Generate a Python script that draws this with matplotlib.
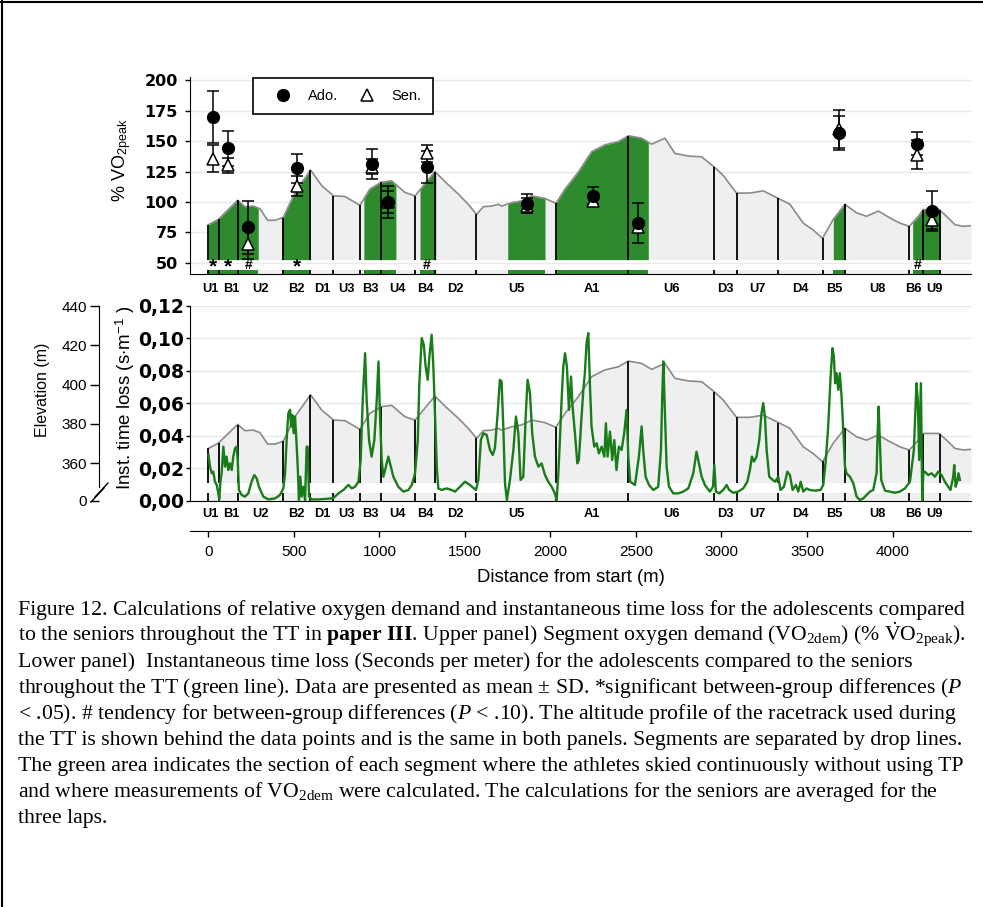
import numpy as np
import matplotlib
matplotlib.use("Agg")
import matplotlib.pyplot as plt
import matplotlib.transforms as mtransforms
from matplotlib import font_manager
from matplotlib.lines import Line2D

# Fonts
installed = {f.name for f in font_manager.fontManager.ttflist}
seg_font = "Liberation Sans Narrow" if "Liberation Sans Narrow" in installed else "Liberation Sans"
plt.rcParams["font.family"] = ["Liberation Sans", "DejaVu Sans"]
plt.rcParams["mathtext.fontset"] = "custom"
plt.rcParams["mathtext.rm"] = "Liberation Serif"
plt.rcParams["mathtext.it"] = "Liberation Serif:italic"
plt.rcParams["mathtext.bf"] = "Liberation Serif:bold"

# Segments of the racetrack, boundaries in m from start
segments = ["U1", "B1", "U2", "B2", "D1", "U3", "B3", "U4", "B4", "D2",
            "U5", "A1", "U6", "D3", "U7", "D4", "B5", "U8", "B6", "U9"]
boundaries = [0, 61, 170, 433, 596, 731, 886, 1007, 1208, 1327, 1566,
              2032, 2455, 2958, 3091, 3333, 3592, 3722, 4098, 4177, 4278]

# Sections skied continuously (green area)
green_start = [0, 432, 909, 1237, 1750, 2032, 3654, 4118]
green_end = [291, 594, 1096, 1329, 1968, 2572, 3722, 4278]

# Altitude profile (m)
profile_dist = [0, 57, 96, 171, 213, 262, 301, 346, 389, 438, 506, 597, 662, 732,
                798, 886, 944, 1009, 1071, 1149, 1208, 1324, 1383, 1461, 1519, 1568,
                1607, 1656, 1695, 1714, 1773, 1831, 1890, 1968, 2032, 2085, 2163, 2241,
                2319, 2397, 2455, 2533, 2591, 2669, 2728, 2806, 2884, 2958, 3010, 3088,
                3166, 3244, 3322, 3400, 3478, 3536, 3591, 3653, 3722, 3790, 3848, 3917,
                3985, 4043, 4098, 4151, 4180, 4272, 4316, 4365, 4414, 4459]
profile_elev = [367.6, 370.2, 373.5, 379.8, 376.6, 376.9, 375.6, 369.8, 369.8, 371.3,
                383.7, 394.9, 387.1, 382.0, 381.7, 377.3, 385.4, 388.8, 389.5, 383.7,
                382.0, 394.2, 389.1, 382.9, 377.8, 372.7, 376.6, 376.9, 377.8, 376.9,
                378.6, 379.5, 382.0, 380.7, 378.3, 385.4, 393.9, 404.1, 407.5, 409.1,
                412.0, 410.8, 407.8, 410.8, 403.2, 401.9, 401.5, 396.4, 392.2, 383.4,
                383.4, 384.5, 381.2, 377.8, 368.4, 365.0, 360.8, 370.2, 377.8, 373.5,
                371.8, 374.4, 371.0, 368.4, 366.8, 371.8, 375.2, 375.2, 371.8, 367.6,
                366.8, 367.1]

# Segment oxygen demand (% VO2peak), mean and SD
point_dist = [28, 116, 233, 516, 954, 1051, 1276, 1861, 2247, 2510, 3689, 4145, 4229]
ado_mean = [170, 144, 79, 127.5, 131, 100, 128.5, 98.5, 105, 83, 157, 148, 92.5]
ado_sd = [21.5, 14.5, 22, 12, 12.3, 13, 13, 8, 7, 16.5, 14, 9.5, 16.7]
sen_mean = [135.5, 130, 65, 113, 129, 100, 140, 97, 101, 79, 160, 139, 85]
sen_sd = [11, 6.5, 12, 8.5, 6, 9, 7, 6, 4, 4, 15.5, 12, 7]
sig_marks = ["*", "*", "#", "*", "", "", "#", "", "", "", "", "#", ""]

# Instantaneous time loss (s per m)
loss_dist = [0, 9, 19, 28, 38, 48, 58, 63, 71, 77, 87, 97, 106, 116, 126, 136, 145, 155,
             165, 171, 178, 194, 213, 233, 252, 268, 282, 295, 321, 350, 389, 418, 438,
             448, 457, 467, 477, 483, 490, 498, 506, 514, 522, 529, 537, 545, 555, 565,
             574, 580, 588, 604, 643, 701, 730, 760, 789, 818, 838, 857, 877, 890, 902,
             916, 925, 939, 954, 970, 984, 994, 1003, 1013, 1023, 1033, 1042, 1052, 1062,
             1081, 1110, 1140, 1169, 1189, 1208, 1224, 1233, 1247, 1259, 1270, 1282, 1292,
             1305, 1315, 1325, 1335, 1344, 1364, 1393, 1422, 1442, 1461, 1500, 1529, 1564,
             1578, 1593, 1607, 1627, 1646, 1662, 1675, 1691, 1704, 1714, 1724, 1734, 1745,
             1763, 1783, 1798, 1812, 1825, 1841, 1855, 1866, 1880, 1893, 1909, 1929, 1948,
             1968, 1987, 2007, 2026, 2036, 2046, 2055, 2065, 2075, 2085, 2096, 2108, 2120,
             2129, 2143, 2157, 2166, 2178, 2192, 2201, 2211, 2221, 2231, 2240, 2256, 2270,
             2283, 2299, 2315, 2324, 2334, 2348, 2361, 2373, 2386, 2400, 2416, 2431, 2445,
             2455, 2466, 2494, 2517, 2533, 2542, 2556, 2576, 2601, 2630, 2646, 2654, 2660,
             2669, 2679, 2693, 2718, 2747, 2776, 2806, 2835, 2854, 2868, 2884, 2903, 2932,
             2950, 2958, 2967, 2987, 3010, 3030, 3045, 3069, 3098, 3127, 3151, 3166, 3178,
             3190, 3205, 3221, 3234, 3244, 3254, 3264, 3279, 3299, 3314, 3332, 3345, 3365,
             3385, 3400, 3416, 3435, 3449, 3463, 3478, 3497, 3517, 3546, 3579, 3595, 3610,
             3624, 3638, 3649, 3657, 3665, 3673, 3683, 3692, 3702, 3712, 3722, 3731, 3751,
             3771, 3790, 3809, 3829, 3848, 3868, 3887, 3907, 3913, 3919, 3926, 3934, 3956,
             3985, 4014, 4043, 4073, 4102, 4125, 4140, 4148, 4156, 4166, 4174, 4180, 4189,
             4209, 4228, 4248, 4267, 4287, 4306, 4326, 4339, 4355, 4361, 4369, 4378, 4386,
             4394]
loss_val = [.0282, .0210, .0169, .0179, .0117, .0097, .0045, .0008, .0128, .0169, .0333,
            .0210, .0272, .0189, .0230, .0189, .0272, .0323, .0333, .0251, .0066, .0035,
            .0025, .0045, .0117, .0158, .0138, .0086, .0025, .0008, .0014, .0035, .0076,
            .0169, .0374, .0539, .0560, .0457, .0529, .0416, .0519, .0374, .0210, .0004,
            .0148, .0025, .0086, .0004, .0333, .0333, .0025, .0008, .0008, .0012, .0016,
            .0045, .0066, .0097, .0076, .0086, .0117, .0251, .0621, .0909, .0621, .0374,
            .0272, .0374, .0621, .0858, .0519, .0251, .0148, .0189, .0230, .0272, .0230,
            .0148, .0086, .0056, .0066, .0097, .0169, .0374, .0724, .1002, .0961, .0827,
            .0745, .0889, .1023, .0827, .0519, .0210, .0076, .0066, .0076, .0066, .0056,
            .0076, .0117, .0097, .0066, .0128, .0374, .0416, .0405, .0313, .0282, .0323,
            .0539, .0745, .0735, .0457, .0107, .0004, .0128, .0313, .0519, .0416, .0128,
            .0148, .0519, .0745, .0663, .0416, .0272, .0210, .0230, .0158, .0117, .0086,
            .0045, .0004, .0169, .0374, .0621, .0827, .0909, .0827, .0560, .0765, .0580,
            .0416, .0230, .0251, .0457, .0683, .0786, .0971, .1033, .0704, .0457, .0333,
            .0354, .0292, .0333, .0272, .0477, .0272, .0426, .0251, .0374, .0189, .0333,
            .0313, .0416, .0560, .0272, .0117, .0097, .0272, .0457, .0313, .0148, .0097,
            .0066, .0086, .0313, .0663, .0858, .0560, .0210, .0086, .0045, .0045, .0056,
            .0076, .0169, .0302, .0230, .0148, .0097, .0056, .0086, .0220, .0056, .0045,
            .0066, .0097, .0066, .0049, .0056, .0076, .0117, .0189, .0272, .0241, .0272,
            .0374, .0539, .0601, .0519, .0313, .0148, .0128, .0117, .0148, .0066, .0086,
            .0179, .0158, .0066, .0097, .0056, .0117, .0056, .0076, .0066, .0062, .0066,
            .0097, .0251, .0457, .0765, .0940, .0889, .0724, .0786, .0683, .0786, .0642,
            .0436, .0210, .0169, .0148, .0107, .0025, .0004, .0014, .0035, .0056, .0066,
            .0169, .0416, .0580, .0374, .0128, .0062, .0056, .0049, .0056, .0076, .0117,
            .0313, .0724, .0621, .0251, .0724, .0004, .0169, .0179, .0158, .0169, .0148,
            .0179, .0158, .0117, .0086, .0066, .0148, .0220, .0086, .0117, .0169, .0128]

# Caption
caption = [
    "Figure 12. Calculations of relative oxygen demand and instantaneous time loss for the adolescents compared",
    r"to the seniors throughout the TT in $\mathbf{paper\ III}$. Upper panel) Segment oxygen demand "
    r"(VO$_{\mathregular{2dem}}$) (% $\dot{\mathregular{V}}$O$_{\mathregular{2peak}}$).",
    "Lower panel)  Instantaneous time loss (Seconds per meter) for the adolescents compared to the seniors",
    r"throughout the TT (green line). Data are presented as mean ± SD. *significant between-group differences ($P$",
    r"< .05). # tendency for between-group differences ($P$ < .10). The altitude profile of the racetrack used during",
    "the TT is shown behind the data points and is the same in both panels. Segments are separated by drop lines.",
    "The green area indicates the section of each segment where the athletes skied continuously without using TP",
    r"and where measurements of VO$_{\mathregular{2dem}}$ were calculated. The calculations for the seniors are averaged for the",
    "three laps.",
]

# Colours
GREY = "#efefef"
PROFILE = "#8a8a8a"
GREEN = "#2d8a2d"
GREEN_LINE = "#187c18"
GRID = "#e9e9e9"

# small sideways nudges (pixels) so that crowded segment names do not collide
label_nudge = {"U1": -3.5, "B1": 3.5, "B6": -3, "U9": 3.5}

W, H = 983, 907
fig = plt.figure(figsize = (W / 100, H / 100), dpi = 100)


def rect(x0, y0, x1, y1):
    # pixel box (from top-left) to figure fraction
    return [x0 / W, 1 - y1 / H, (x1 - x0) / W, (y1 - y0) / H]


def fy(y):
    return 1 - y / H


def to_elev(v, lim_v, lim_e):
    return lim_e[0] + (v - lim_v[0]) * (lim_e[1] - lim_e[0]) / (lim_v[1] - lim_v[0])


dist = np.array(profile_dist)
elev = np.array(profile_elev)
bounds = np.array(boundaries)
xlim = (-108, 4459)


def draw_profile(ax, lim_v, lim_e, band, green):
    lo = lim_e[0]
    b_lo = to_elev(band[0], lim_v, lim_e)
    b_hi = to_elev(band[1], lim_v, lim_e)
    ax.fill_between(dist, b_hi, elev, color = GREY, lw = 0)
    ax.fill_between(dist, lo, b_lo, color = GREY, lw = 0)
    if green:
        for s, e in zip(green_start, green_end):
            xs = np.concatenate(([s], dist[(dist > s) & (dist < e)], [e]))
            ax.fill_between(xs, b_hi, np.interp(xs, dist, elev), color = GREEN, lw = 0)
            ax.fill_between([s, e], lo, b_lo, color = GREEN, lw = 0)
    ax.plot(dist, elev, color = PROFILE, lw = 1.2)
    ax.vlines(bounds, b_hi, np.interp(bounds, dist, elev), color = "black", lw = 1.3)
    ax.vlines(bounds, lo, b_lo, color = "black", lw = 1.3)


def segment_labels(ax, y):
    trans = mtransforms.blended_transform_factory(ax.transData, fig.transFigure)
    for name, a, b in zip(segments, boundaries[:-1], boundaries[1:]):
        t = mtransforms.offset_copy(trans, fig = fig, x = label_nudge.get(name, 0), y = 0, units = "dots")
        ax.text((a + b) / 2, fy(y), name, transform = t, ha = "center", va = "center",
                fontsize = 10.5 if seg_font != "Liberation Sans" else 9.3, fontweight = "bold",
                family = seg_font)


# ---------------- Upper panel: oxygen demand ----------------
top_box = rect(190, 76.7, 971, 274)
ylim_top = (40.7, 203)
elev_top = (343.0, 441.5)

ax1 = fig.add_axes(top_box)
ax1.set_xlim(xlim)
ax1.set_ylim(ylim_top)
ax1.set_yticks(np.arange(50, 201, 25))
ax1.set_xticks([])
ax1.tick_params(axis = "y", length = 3.6, width = 1, pad = 5, labelsize = 11.5)
plt.setp(ax1.get_yticklabels(), family = "DejaVu Sans", fontweight = "bold")
ax1.grid(axis = "y", color = GRID, lw = 1)
for s in ["top", "right", "bottom"]:
    ax1.spines[s].set_visible(False)

ax1e = fig.add_axes(top_box, sharex = ax1)
ax1e.set_ylim(elev_top)
ax1e.axis("off")
draw_profile(ax1e, ylim_top, elev_top, (44.3, 52.5), green = True)

ax1p = fig.add_axes(top_box, sharex = ax1, sharey = ax1)
ax1p.patch.set_visible(False)
ax1p.tick_params(left = False, bottom = False, labelleft = False, labelbottom = False)
for s in ["top", "right", "left"]:
    ax1p.spines[s].set_visible(False)

ax1p.errorbar(point_dist, sen_mean, yerr = sen_sd, fmt = "^", ms = 8.5, mfc = "white", mec = "black",
              mew = 1.1, ecolor = "black", elinewidth = 1.1, capsize = 4, capthick = 1.1)
ax1p.errorbar(point_dist, ado_mean, yerr = ado_sd, fmt = "o", ms = 8.5, color = "black",
              ecolor = "black", elinewidth = 1.1, capsize = 4, capthick = 1.1)
for d, m in zip(point_dist, sig_marks):
    if m == "*":
        ax1p.text(d, 46.2, m, ha = "center", va = "center", fontsize = 15, fontweight = "bold")
    elif m:
        ax1p.text(d, 48, m, ha = "center", va = "center", fontsize = 10, fontweight = "bold")

handles = [Line2D([], [], ls = "none", marker = "o", ms = 8.5, color = "black"),
           Line2D([], [], ls = "none", marker = "^", ms = 8.5, mfc = "white", mec = "black", mew = 1.1)]
leg = ax1p.legend(handles, ["Ado.", "Sen."], ncol = 2, loc = "upper left",
                  bbox_to_anchor = (253 / W, fy(78)), bbox_transform = fig.transFigure,
                  frameon = True, fancybox = False, edgecolor = "black", framealpha = 1,
                  borderpad = 0.75, handlelength = 2.56, handletextpad = 0.45,
                  columnspacing = 0.68, fontsize = 10.5, borderaxespad = 0)
leg.get_frame().set_linewidth(1.2)
segment_labels(ax1p, 288.7)

fig.text(122 / W, fy(160), r"% VO$_{\mathregular{2peak}}$", rotation = 90, ha = "center",
         va = "center", fontsize = 13)

# ---------------- Lower panel: instantaneous time loss ----------------
bot_box = rect(190, 306, 971, 500.7)
ylim_bot = (0, 0.12)
elev_bot = (341, 440)

ax2 = fig.add_axes(bot_box)
ax2.set_xlim(xlim)
ax2.set_ylim(ylim_bot)
loss_ticks = np.arange(0, 0.121, 0.02)
ax2.set_yticks(loss_ticks)
ax2.set_yticklabels([f"{v:.2f}".replace(".", ",") for v in loss_ticks])
ax2.set_xticks([])
ax2.tick_params(axis = "y", length = 3, width = 1, pad = 1, labelsize = 13.5)
plt.setp(ax2.get_yticklabels(), family = "DejaVu Sans", fontweight = "bold")
ax2.grid(axis = "y", color = GRID, lw = 1)
for s in ["top", "right", "bottom"]:
    ax2.spines[s].set_visible(False)

ax2e = fig.add_axes(bot_box, sharex = ax2)
ax2e.patch.set_visible(False)
ax2e.set_ylim(elev_bot)
ax2e.set_yticks([341, 360, 380, 400, 420, 440])
ax2e.set_yticklabels(["0", "360", "380", "400", "420", "440"])
ax2e.tick_params(axis = "y", length = 6.5, width = 1, pad = 2, labelsize = 11)
ax2e.tick_params(axis = "x", bottom = False, labelbottom = False)
for s in ["top", "right", "bottom"]:
    ax2e.spines[s].set_visible(False)
ax2e.spines["left"].set_position(("axes", (99 - 190) / (971 - 190)))
ax2e.spines["left"].set_bounds(348, 440)
draw_profile(ax2e, ylim_bot, elev_bot, (0.005, 0.0111), green = False)

ax2l = fig.add_axes(bot_box, sharex = ax2, sharey = ax2)
ax2l.patch.set_visible(False)
ax2l.tick_params(left = False, bottom = False, labelleft = False, labelbottom = False)
for s in ["top", "right", "left"]:
    ax2l.spines[s].set_visible(False)
ax2l.plot(loss_dist, loss_val, color = GREEN_LINE, lw = 1.7, solid_joinstyle = "round")
segment_labels(ax2l, 514)

# axis break marks on the elevation axis
for x0, y0 in [(91, 502), (95, 497)]:
    fig.add_artist(Line2D([x0 / W, (x0 + 13) / W], [fy(y0), fy(y0 - 14)],
                          transform = fig.transFigure, color = "black", lw = 1))

fig.text(125 / W, fy(398), r"Inst. time loss (s$\cdot$m$^{\mathregular{-1}}$ )", rotation = 90,
         ha = "center", va = "center", fontsize = 13.5)
fig.text(42 / W, fy(390), "Elevation (m)", rotation = 90, ha = "center", va = "center",
         fontsize = 11.5)

# ---------------- Distance axis ----------------
ax3 = fig.add_axes(rect(190, 520, 971, 531))
ax3.patch.set_visible(False)
ax3.set_xlim(xlim)
ax3.set_yticks([])
ax3.set_xticks(np.arange(0, 4001, 500))
ax3.tick_params(axis = "x", direction = "out", length = 4.3, width = 1, pad = 5.5, labelsize = 11)
for s in ["top", "right", "left"]:
    ax3.spines[s].set_visible(False)
fig.text(571 / W, fy(577), "Distance from start (m)", ha = "center", va = "center", fontsize = 13.3)

# ---------------- Caption ----------------
for i, line in enumerate(caption):
    fig.text(18 / W, fy(615 + 26 * i), line, ha = "left", va = "baseline", fontsize = 15.7,
             family = "Liberation Serif")

# frame around the figure
fig.add_artist(Line2D([2 / W, 2 / W], [0, 1], transform = fig.transFigure, color = "black", lw = 1.5))
fig.add_artist(Line2D([0, 1], [fy(1.5), fy(1.5)], transform = fig.transFigure, color = "black", lw = 1.5))

fig.savefig("out.png", dpi = 100)
